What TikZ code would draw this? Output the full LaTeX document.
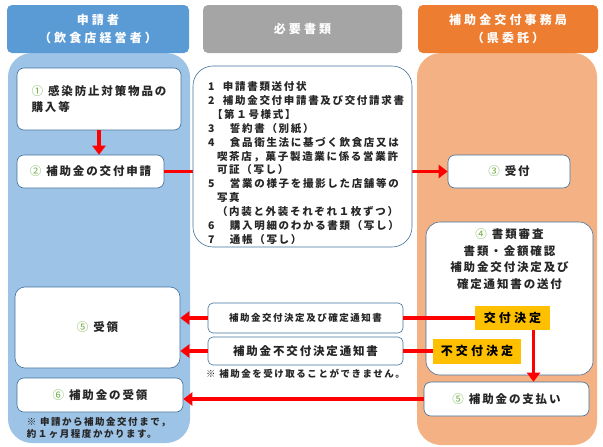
\documentclass[tikz,border=0pt]{standalone}
\usepackage{fontspec}
\setmainfont{Noto Sans CJK JP}[LetterSpace=16]
\newfontfamily\widejp{Noto Sans CJK JP}[LetterSpace=26]
\usepackage{tikz}
\usetikzlibrary{
  arrows.meta,
  positioning
}
\definecolor{hdrblue}{HTML}{5B9BD5}
\definecolor{colblue}{HTML}{9DC3E6}
\definecolor{hdrgray}{HTML}{A5A5A5}
\definecolor{hdrorange}{HTML}{ED7D31}
\definecolor{colorange}{HTML}{F4B183}
\definecolor{boxline}{HTML}{41719C}
\definecolor{stepgreen}{HTML}{70AD47}
\definecolor{tagyellow}{HTML}{FFC000}
\definecolor{flowred}{HTML}{FF0000}
\definecolor{inkgray}{HTML}{262626}
\newcommand{\stepno}[1]{{\mdseries\color{stepgreen}#1}\hspace{5pt}}

\begin{document}
\begin{tikzpicture}[x=1pt, y=-1pt,
  hdr/.style={rounded corners=5pt, inner sep=0pt, minimum height=48pt, text=white, align=center, font=\widejp\bfseries\fontsize{12}{18}\selectfont},
  stepbox/.style={draw=boxline, line width=0.6pt, fill=white, rounded corners=7pt, inner sep=0pt, text=inkgray, font=\bfseries\fontsize{11.5}{16.5}\selectfont},
  notice/.style={draw=boxline, line width=0.6pt, fill=white, rounded corners=5pt, inner sep=0pt, minimum width=195pt, text=inkgray},
  tag/.style={fill=tagyellow, inner sep=0pt, text=black, font=\widejp\bfseries\fontsize{12}{14}\selectfont},
  note/.style={inner sep=0pt, align=left, text=inkgray, font=\bfseries\fontsize{9.5}{12}\selectfont},
  flow/.style={draw=flowred, line width=3.5pt},
  flowarrow/.style={flow, -{Triangle[length=9pt, width=13pt]}},
]
  \useasboundingbox (0,0) rectangle (603,447);

  % Columns
  \fill[colblue, rounded corners=24pt] (8,53) rectangle (190,443);
  \fill[colorange, rounded corners=24pt] (417,53) rectangle (597,445);

  % Headers
  \node[hdr, fill=hdrblue, minimum width=182pt] (hdrapp) at (98,29) {申請者\\（飲食店経営者）};
  \node[hdr, fill=hdrgray, minimum width=199pt] (hdrdocs) at (302.5,29) {必要書類};
  \node[hdr, fill=hdrorange, minimum width=180pt] (hdroffice) at (508,29) {補助金交付事務局\\（県委託）};

  % Applicant
  \node[stepbox, minimum width=164pt, minimum height=62pt, align=left] (buy) at (99,99) {\stepno{①}感染防止対策物品の\\購入等};
  \node[stepbox, minimum width=147pt, minimum height=33pt] (apply) at (90.5,171.5) {\stepno{②}補助金の交付申請};
  \node[stepbox, rounded corners=10pt, minimum width=165pt, minimum height=81pt] (recv) at (97.5,327.5) {\stepno{⑤}受領};
  \node[stepbox, minimum width=166pt, minimum height=34pt] (grant) at (100,395) {\stepno{⑥}補助金の受領};
  \draw[flowarrow] (buy.south) -- (buy.south |- apply.north);

  % Office
  \node[stepbox, minimum width=122pt, minimum height=33pt] (accept) at (509,171.5) {\stepno{③}受付};
  \node[stepbox, rounded corners=14pt, minimum width=167pt, minimum height=153pt] (review) at (509.5,298.5) {};
  \node[inner sep=0pt, align=center, text=inkgray, font=\bfseries\fontsize{11.5}{16.5}\selectfont, below=7pt of review.north] (reviewtxt)
    {\stepno{④}書類審査\\書類・金額確認\\補助金交付決定及び\\確定通知書の送付};
  \node[stepbox, minimum width=165pt, minimum height=34pt] (pay) at (506.5,399) {\stepno{⑤}補助金の支払い};

  % Application
  \draw[flowarrow] (apply) -- (accept);
  \node[stepbox, rounded corners=20pt, minimum width=219pt, minimum height=181pt, text width=189pt, align=left,
    font=\bfseries\fontsize{10.5}{13.9}\selectfont] (docs) at (302.5,156.5)
    {\rule{0pt}{22pt}\makebox[15pt][l]{1}申請書類送付状\\
     \makebox[15pt][l]{2}補助金交付申請書及び交付請求書\\
     \hspace*{4pt}【第１号様式】\\
     \makebox[22pt][l]{3}誓約書（別紙）\\
     \makebox[22pt][l]{4}食品衛生法に基づく飲食店又は\\
     \hspace*{9pt}喫茶店，菓子製造業に係る営業許\\
     \hspace*{9pt}可証（写し）\\
     \makebox[22pt][l]{5}営業の様子を撮影した店舗等の\\
     \hspace*{9pt}写真\\
     \hspace*{9pt}（内装と外装それぞれ１枚ずつ）\\
     \makebox[22pt][l]{6}購入明細のわかる書類（写し）\\
     \makebox[22pt][l]{7}通帳（写し）};

  % Decision
  \node[notice, minimum height=30pt, font=\bfseries\fontsize{9.5}{12}\selectfont] (notice1) at (305.5,318) {補助金交付決定及び確定通知書};
  \node[notice, minimum height=28pt, font=\bfseries\fontsize{11.5}{14}\selectfont] (notice2) at (305.5,351) {補助金不交付決定通知書};
  \node[note, below=4pt of notice2] (nogrant) {※ 補助金を受け取ることができません。};
  \node[tag, minimum width=75pt, minimum height=24pt] (kofu) at (512.5,318) {交付決定};
  \node[tag, minimum width=88pt, minimum height=25pt] (fukofu) at (477,351) {不交付決定};
  \draw[flow] (kofu) -- (notice1);
  \draw[flow] (fukofu) -- (notice2);
  \draw[flowarrow] (notice1) -- (notice1 -| recv.east);
  \draw[flowarrow] (notice2) -- (notice2 -| recv.east);
  \draw[flowarrow] ([xshift=21pt]kofu.south) -- ([xshift=21pt]kofu.south |- pay.north);

  % Payment
  \draw[flowarrow] (pay) -- (pay -| grant.east);
  \node[note, below right=5pt and 10pt of grant.south west] (period) {※ 申請から補助金交付まで，\\約１ヶ月程度かかります。};
\end{tikzpicture}
\end{document}
